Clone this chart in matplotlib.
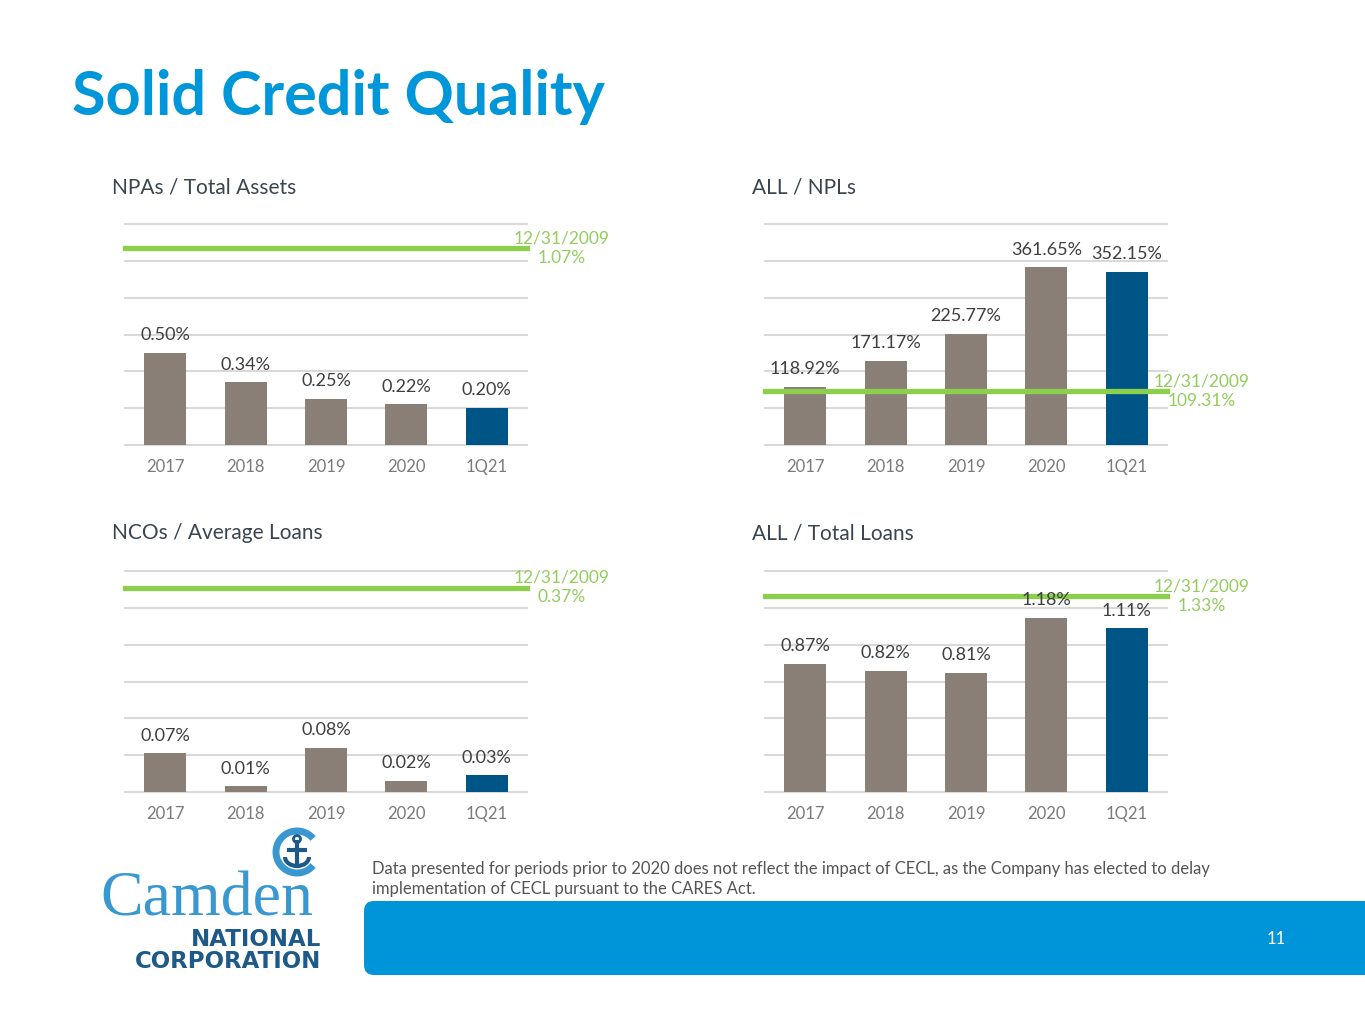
import numpy as np
import matplotlib
matplotlib.use("Agg")
import matplotlib.pyplot as plt
from matplotlib.patches import FancyBboxPatch, Arc, Circle

# ---------------- data ----------------
categories = ["2017", "2018", "2019", "2020", "1Q21"]

npa_values = [0.50, 0.34, 0.25, 0.22, 0.20]
npa_benchmark = 1.07
npa_ymax = 1.2

all_npl_values = [118.92, 171.17, 225.77, 361.65, 352.15]
all_npl_benchmark = 109.31
all_npl_ymax = 450

nco_values = [0.07, 0.01, 0.08, 0.02, 0.03]
nco_benchmark = 0.37
nco_ymax = 0.40

all_loans_values = [0.87, 0.82, 0.81, 1.18, 1.11]
all_loans_benchmark = 1.33
all_loans_ymax = 1.5

benchmark_date = "12/31/2009"
titles = ["NPAs / Total Assets", "ALL / NPLs", "NCOs / Average Loans", "ALL / Total Loans"]

# ---------------- style ----------------
FONT = "Lato"
GRAY_BAR = "#8a7f76"
BLUE_BAR = "#005587"
GREEN = "#8ccf4d"
GREEN_TXT = "#93cd5e"
GRID = "#d9d9d9"
TITLE_BLUE = "#0096da"
LOGO_LIGHT = "#3a98d0"
LOGO_DARK = "#1d5a8a"

W, H = 1365, 1024
fig = plt.figure(figsize=(W / 100, H / 100), dpi=100)

# background / decoration axes in pixel coordinates
bg = fig.add_axes([0, 0, 1, 1], zorder=0)
bg.set_xlim(0, W)
bg.set_ylim(H, 0)
bg.axis("off")

bg.text(72, 97, "Solid Credit Quality", fontsize=44, fontweight="bold",
        color=TITLE_BLUE, family=FONT, va="center", ha="left")

# blue footer band
band = FancyBboxPatch((364, 901), 1200, 74, boxstyle="round,pad=0,rounding_size=10",
                      fc="#0094d9", ec="none")
bg.add_patch(band)
bg.text(1276, 939, "11", color="white", fontsize=12, family=FONT, ha="center", va="center")

bg.text(372, 869, "Data presented for periods prior to 2020 does not reflect the impact of CECL, as the Company has elected to delay",
        fontsize=12, color="#555555", family=FONT, ha="left", va="center")
bg.text(372, 889, "implementation of CECL pursuant to the CARES Act.",
        fontsize=12, color="#555555", family=FONT, ha="left", va="center")

# logo
bg.text(207, 916, "Camden", family="Liberation Serif", fontsize=46, color=LOGO_LIGHT,
        ha="center", va="baseline")
bg.text(321, 940, "NATIONAL", family="DejaVu Sans", fontweight="bold",
        fontsize=16.5, color=LOGO_DARK, ha="right", va="center")
bg.text(321, 962, "CORPORATION", family="DejaVu Sans", fontweight="bold",
        fontsize=16.5, color=LOGO_DARK, ha="right", va="center")
bg.add_patch(Arc((297, 852), 42, 42, theta1=40, theta2=320, lw=5, color=LOGO_LIGHT))
bg.plot([297, 297], [842, 866], color=LOGO_DARK, lw=3)
bg.plot([289, 305], [850, 850], color=LOGO_DARK, lw=3)
bg.add_patch(Circle((297, 839), 3.5, fc="none", ec=LOGO_DARK, lw=2))
bg.add_patch(Arc((297, 857), 24, 18, theta1=0, theta2=180, lw=3, color=LOGO_DARK))

# ---------------- charts ----------------
panels = [
    (titles[0], npa_values, npa_benchmark, npa_ymax, (125, 445), 112, 187),
    (titles[1], all_npl_values, all_npl_benchmark, all_npl_ymax, (765, 445), 752, 187),
    (titles[2], nco_values, nco_benchmark, nco_ymax, (125, 792), 112, 533),
    (titles[3], all_loans_values, all_loans_benchmark, all_loans_ymax, (765, 792), 752, 533),
]

aw, ah = 402, 221
colors = [GRAY_BAR] * (len(categories) - 1) + [BLUE_BAR]

for title, vals, bench, ymax, (x0, ybase), tx, ty in panels:
    ax = fig.add_axes([x0 / W, 1 - ybase / H, aw / W, ah / H], zorder=2)
    ax.patch.set_alpha(0)
    x = np.arange(len(categories))
    ax.bar(x, vals, width=0.52, color=colors, zorder=2)
    ax.set_xlim(-0.5, len(categories) - 0.5)
    ax.set_ylim(0, ymax)
    for t in np.linspace(0, ymax, 7):
        ax.axhline(t, color=GRID, lw=1.5, zorder=1, clip_on=False)
    for s in ax.spines.values():
        s.set_visible(False)
    ax.set_yticks([])
    ax.set_xticks(x)
    ax.set_xticklabels(categories, fontsize=12, color="#7a7a7a", family=FONT)
    ax.tick_params(axis="x", length=0, pad=10)
    for xi, v in zip(x, vals):
        ax.annotate("{:.2f}%".format(v), (xi, v), xytext=(0, 7), textcoords="offset points",
                    ha="center", va="bottom", fontsize=13, color="#3f3f3f", family=FONT, zorder=4)
    ax.axhline(bench, color=GREEN, lw=3.8, zorder=3, clip_on=False)
    ax.text(1.087, bench, benchmark_date + "\n" + "{:.2f}%".format(bench),
            transform=ax.get_yaxis_transform(),
            ha="center", va="center", fontsize=12.5, color=GREEN_TXT, family=FONT,
            linespacing=1.25, zorder=4)
    bg.text(tx, ty, title, fontsize=15, color="#3b4550", family=FONT, ha="left", va="center")

fig.savefig("out.png", dpi=100)
